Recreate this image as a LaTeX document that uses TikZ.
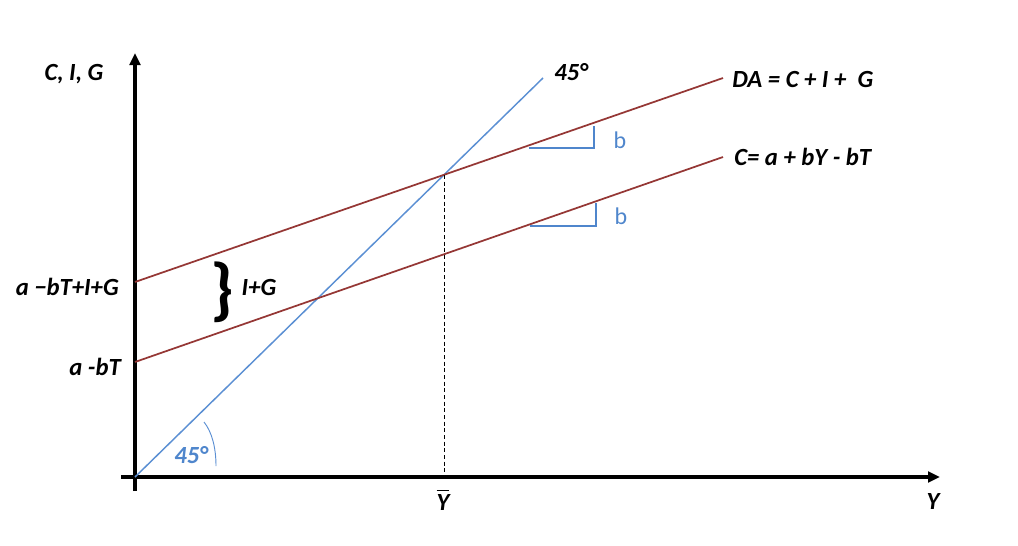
\documentclass[tikz,border=0pt]{standalone}
\usepackage{fontspec}
\setmainfont{Carlito}
\usetikzlibrary{arrows.meta,calc}
\definecolor{redline}{HTML}{953735}
\definecolor{blueline}{HTML}{5B8FD3}
\definecolor{bluetext}{HTML}{4F86CC}
\tikzset{
  axis/.style={line width=2.6pt,-{Triangle[length=9pt,width=8pt]}},
  redl/.style={draw=redline,line width=1.3pt},
  bluel/.style={draw=blueline,line width=1.1pt},
  lab/.style={font=\fontsize{18.5}{21}\selectfont\bfseries\itshape,inner sep=0pt},
  blab/.style={font=\fontsize{18}{20}\selectfont,text=bluetext,inner sep=0pt},
  tri/.style={draw=bluetext,line width=0.8pt},
}
\begin{document}
\begin{tikzpicture}[x=0.75pt,y=-0.75pt]
\useasboundingbox (0,0) rectangle (1018,546);
% axes
\coordinate (O) at (135,477);
\coordinate (ybot) at (135,491);
\coordinate (ytop) at (135,53);
\coordinate (xl) at (121,477);
\coordinate (xr) at (940,477);
\draw[axis] (ybot) -- (ytop);
\draw[axis] (xl) -- (xr);
% lines
\coordinate (b45) at (543,78);
\coordinate (da0) at (135,282);
\coordinate (da1) at (723,78);
\coordinate (c0) at (135,362);
\coordinate (c1) at (723,157);
\draw[bluel] (O) -- (b45);
\draw[redl] (da0) -- (da1);
\draw[redl] (c0) -- (c1);
% dashed
\coordinate (eq) at (444,175);
\coordinate (eqb) at (444,477);
\draw[line width=0.6pt,dash pattern=on 3pt off 2pt] (eq) -- (eqb);
% slope triangles
\coordinate (t1a) at (529,148);
\coordinate (t1b) at (594,148);
\coordinate (t1c) at (594,126);
\draw[tri] (t1a) -- (t1b) -- (t1c);
\coordinate (t2a) at (530,226);
\coordinate (t2b) at (596,226);
\coordinate (t2c) at (596,203);
\draw[tri] (t2a) -- (t2b) -- (t2c);
\node[blab] (b1) at (620,140) {b};
\node[blab] (b2) at (621,216) {b};
% angle arc
\coordinate (arcs) at (204,422);
\coordinate (arce) at (216,466);
\draw[draw=blueline,line width=0.7pt] (arcs) .. controls (212,432) and (216,448) .. (arce);
\node[lab,text=bluetext] (a45) at (191,455) {45°};
% labels
\node[lab] (cig) at (74,74) {C, I, G};
\node[lab] (t45) at (571,72) {45°};
\node[lab,anchor=west] (dal) at (732,79) {DA = C + I +\ \ G};
\node[lab,anchor=west] (cl) at (734,157) {C= a + bY - bT};
\node[lab,anchor=east] (l1) at (119,287) {a −bT+I+G};
\node[lab,anchor=east] (l2) at (121,367) {a -bT};
\node[font=\fontsize{52}{56}\selectfont\bfseries,inner sep=0pt] (br) at (222,292) {\}};
\node[lab] (ig) at (259,287) {I+G};
\node[lab] (ybar) at (443,500) {$\overline{\vphantom{\mbox{\fontsize{22}{22}\selectfont Y}}\mbox{\textbf{\textit{Y}}}}$};
\node[lab] (yl) at (933,501) {Y};
\end{tikzpicture}
\end{document}
